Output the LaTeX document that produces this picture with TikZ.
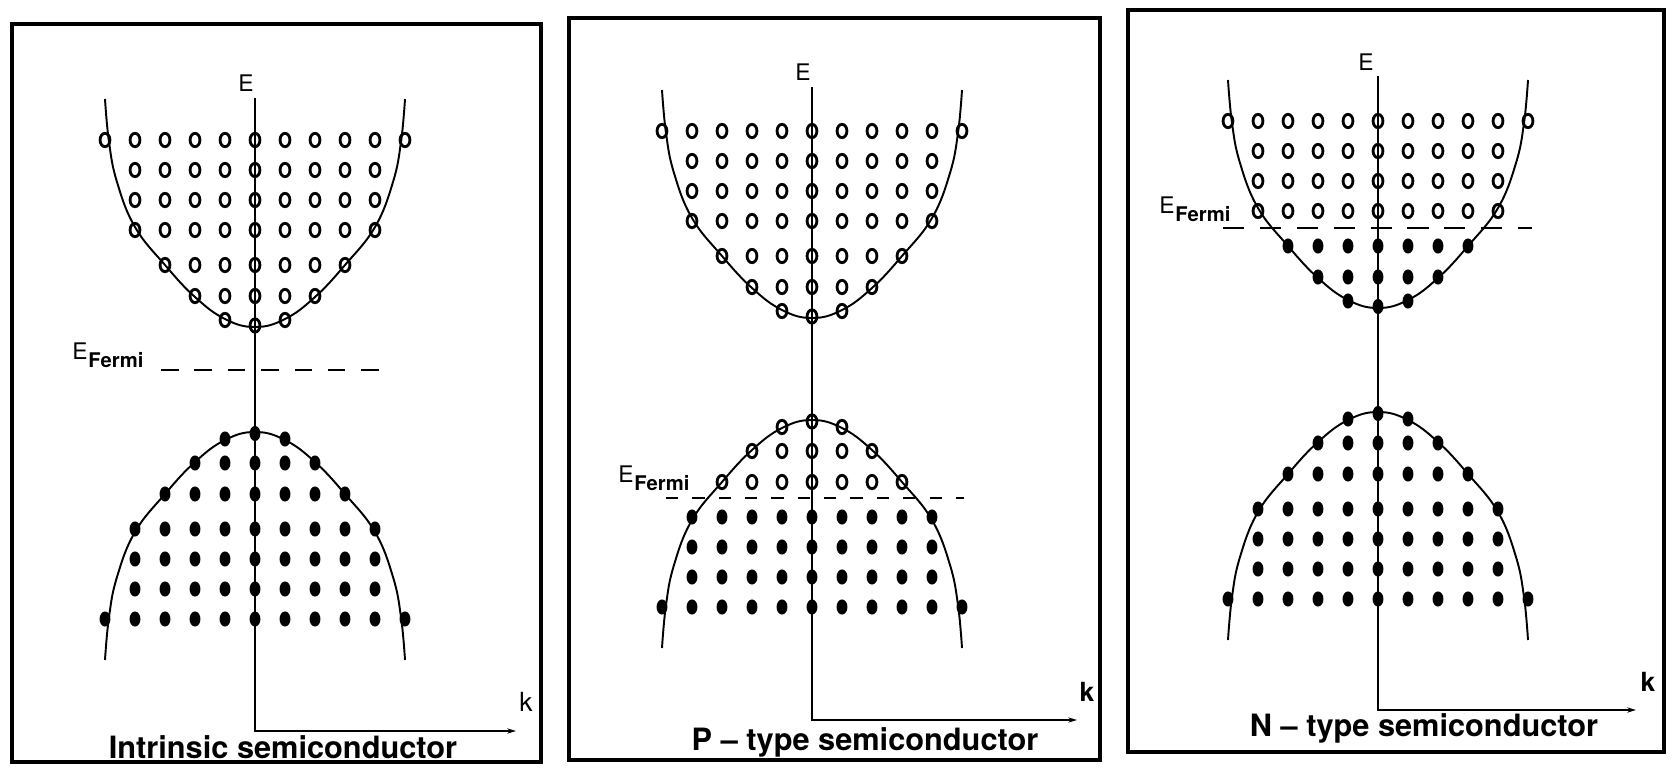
\documentclass[tikz,border=0pt]{standalone}
\usepackage{fontspec}
\setmainfont{TeX Gyre Heros}
\usetikzlibrary{arrows.meta,positioning}

\newcommand{\efermi}{E\kern0.5pt\raisebox{-5pt}{\fontsize{11.5}{12}\selectfont\bfseries Fermi}}
% #1 vertex, #2 1 = conduction / -1 = valence, #3 rows next to vertex in style #4, others in #5
\newcommand{\bandplot}[5]{%
  \begin{scope}[shift={#1},yscale=#2]
    \draw[bandline] plot[smooth,tension=0.7] coordinates {(-150,-228) (-146,-185) (-138,-145) (-120,-100) (-90,-62) (-60,-30) (-30,-8) (0,0)
      (30,-8) (60,-30) (90,-62) (120,-100) (138,-145) (146,-185) (150,-228)};
    \foreach \r/\off/\nmax in {1/7/1,2/31/2,3/62/3,4/97/4,5/127/4,6/157/4,7/187/5} {
      \ifnum\r>#3\relax\def\mk{#5}\else\def\mk{#4}\fi
      \foreach \n in {-\nmax,...,\nmax} {
        \pgfmathsetmacro\dy{(\r==1 && \n==0) ? 1.5 : \off}
        \path[\mk] (30*\n,-\dy) ellipse [];
      }
    }
  \end{scope}}

\begin{document}
\begin{tikzpicture}[x=0.02cm,y=-0.02cm,
    every node/.style={inner sep=0pt},
    panelframe/.style={line width=2.2pt},
    axisline/.style={line width=1.1pt,-{Stealth[length=5pt,width=3pt]}},
    bandline/.style={line width=1.1pt},
    fermiline/.style={line width=1.3pt,dash pattern=on 10pt off 9pt},
    openmark/.style={draw,line width=1.6pt,x radius=2.8pt,y radius=3.8pt},
    fullmark/.style={fill,x radius=3.1pt,y radius=4.3pt},
    axlabel/.style={font=\fontsize{13}{13}\selectfont},
    klabel/.style={font=\fontsize{15}{15}\selectfont},
    fermilabel/.style={font=\fontsize{13}{13}\selectfont,anchor=base west},
    titletext/.style={font=\fontsize{17.5}{17.5}\selectfont\bfseries}]
  \useasboundingbox (0,0) rectangle (1671,771);

  % intrinsic
  \draw[panelframe] (12,24) rectangle (541,762);
  \coordinate (etop1) at (255,98);
  \coordinate (o1) at (255,731);
  \coordinate (kend1) at (516,731);
  \draw[axisline] (etop1) -- (o1) -- (kend1);
  \node[axlabel] (e1) at (246,83) {E};
  \node[klabel] (k1) at (526,702) {k};
  \bandplot{(255,327)}{1}{7}{openmark}{openmark}
  \bandplot{(255,432)}{-1}{7}{fullmark}{fullmark}
  \coordinate (fa1) at (161,370);
  \coordinate (fb1) at (389,370);
  \draw[fermiline] (fa1) -- (fb1);
  \node[fermilabel] (ef1) at (72,359) {\efermi};
  \node[titletext] (t1) at (283,747) {Intrinsic semiconductor};

  % p-type
  \draw[panelframe] (569,18) rectangle (1100,760);
  \coordinate (etop2) at (812,87);
  \coordinate (o2) at (812,720);
  \coordinate (kend2) at (1077,720);
  \draw[axisline] (etop2) -- (o2) -- (kend2);
  \node[axlabel] (e2) at (803,72) {E};
  \node[klabel,font=\fontsize{15}{15}\selectfont\bfseries] (k2) at (1087,692) {k};
  \bandplot{(812,318)}{1}{7}{openmark}{openmark}
  \bandplot{(812,420)}{-1}{3}{openmark}{fullmark}
  \coordinate (fa2) at (666,498);
  \coordinate (fb2) at (964,498);
  \draw[fermiline,dash pattern=on 7pt off 8pt] (fa2) -- (fb2);
  \node[fermilabel] (ef2) at (618,482) {\efermi};
  \node[titletext] (t2) at (865,742) {P -- type semiconductor};

  % n-type
  \draw[panelframe] (1128,10) rectangle (1664,752);
  \coordinate (etop3) at (1378,76);
  \coordinate (o3) at (1378,710);
  \coordinate (kend3) at (1636,710);
  \draw[axisline] (etop3) -- (o3) -- (kend3);
  \node[axlabel] (e3) at (1366,62) {E};
  \node[klabel,font=\fontsize{15}{15}\selectfont\bfseries] (k3) at (1648,682) {k};
  \bandplot{(1378,308)}{1}{3}{fullmark}{openmark}
  \bandplot{(1378,412)}{-1}{7}{fullmark}{fullmark}
  \coordinate (fa3) at (1223,228);
  \coordinate (fb3) at (1532,228);
  \draw[fermiline,dash pattern=on 12pt off 9pt] (fa3) -- (fb3);
  \node[fermilabel] (ef3) at (1159,213) {\efermi};
  \node[titletext] (t3) at (1424,728) {N -- type semiconductor};
\end{tikzpicture}
\end{document}
